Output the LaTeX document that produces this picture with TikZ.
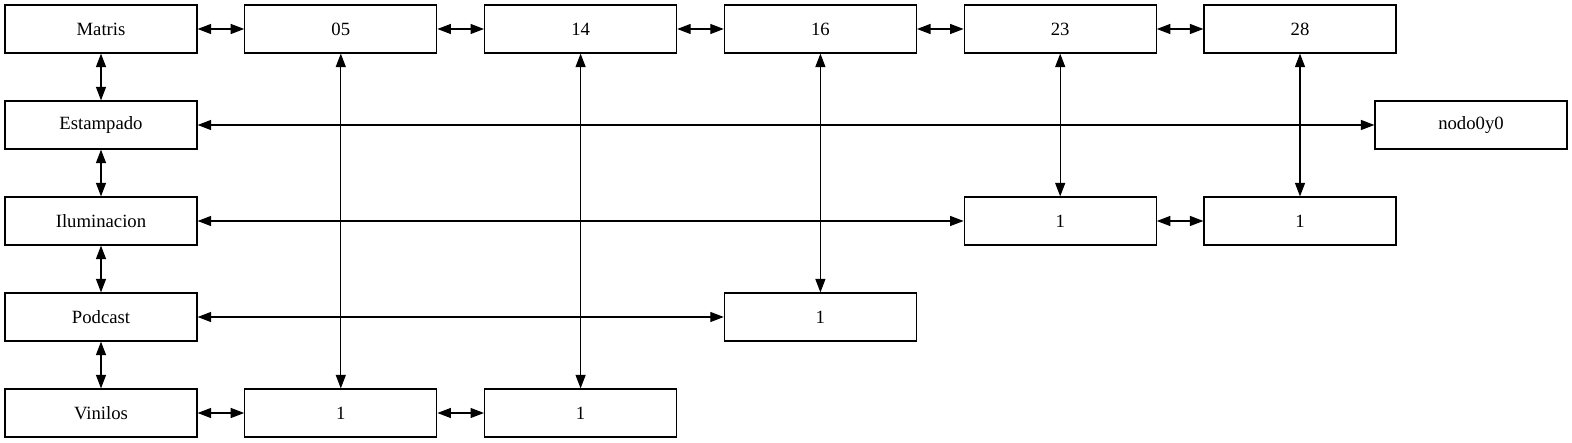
\documentclass[tikz,border=0pt]{standalone}
\usepackage{fontspec}
\setmainfont{Liberation Serif}
\usetikzlibrary{arrows.meta}
\begin{document}
\begin{tikzpicture}[x=1pt,y=-1pt,
  box/.style={draw,line width=1.2pt,minimum width=192pt,minimum height=48pt,inner sep=0pt,
    font=\fontsize{18.7}{22}\selectfont},
  link/.style={line width=1.2pt,{Triangle[length=13.5pt,width=10pt]}-{Triangle[length=13.5pt,width=10pt]}}]
\useasboundingbox (0,0) rectangle (1572,443);
\node[box] (matris) at (101,29) {Matris};
\node[box] (estampado) at (101,125) {Estampado};
\node[box] (ilum) at (101,221) {Iluminacion};
\node[box] (podcast) at (101,317) {Podcast};
\node[box] (vinilos) at (101,413) {Vinilos};
\node[box] (c05) at (340.8,29) {05};
\node[box] (c14) at (580.6,29) {14};
\node[box] (c16) at (820.4,29) {16};
\node[box] (c23) at (1060.2,29) {23};
\node[box] (c28) at (1300,29) {28};
\node[box] (nodo) at (1471,125) {nodo0y0};
\node[box] (i23) at (1060.2,221) {1};
\node[box] (i28) at (1300,221) {1};
\node[box] (p16) at (820.4,317) {1};
\node[box] (v05) at (340.8,413) {1};
\node[box] (v14) at (580.6,413) {1};
\draw[link] (matris) -- (c05);
\draw[link] (c05) -- (c14);
\draw[link] (c14) -- (c16);
\draw[link] (c16) -- (c23);
\draw[link] (c23) -- (c28);
\draw[link] (matris) -- (estampado);
\draw[link] (estampado) -- (ilum);
\draw[link] (ilum) -- (podcast);
\draw[link] (podcast) -- (vinilos);
\draw[link] (estampado) -- (nodo);
\draw[link] (ilum) -- (i23);
\draw[link] (i23) -- (i28);
\draw[link] (c23) -- (i23);
\draw[link] (c28) -- (i28);
\draw[link] (podcast) -- (p16);
\draw[link] (c16) -- (p16);
\draw[link] (vinilos) -- (v05);
\draw[link] (v05) -- (v14);
\draw[link] (c05) -- (v05);
\draw[link] (c14) -- (v14);
\end{tikzpicture}
\end{document}
